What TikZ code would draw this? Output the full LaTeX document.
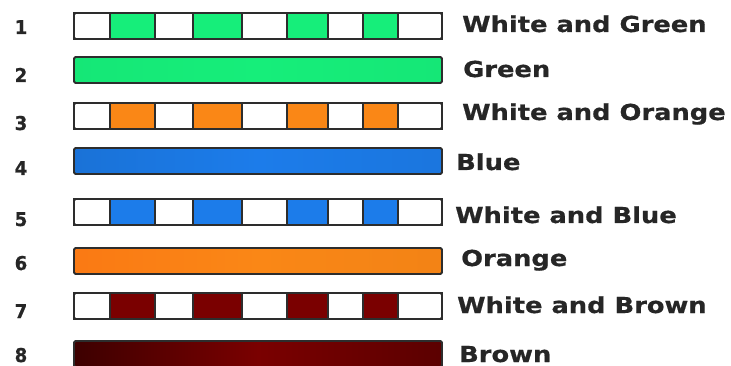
\documentclass[tikz,border=0pt]{standalone}
\usepackage{fontspec}
\setmainfont{DejaVu Sans}
\newfontfamily\labfont[FakeStretch=1.17,FakeBold=0.6]{DejaVu Sans Bold}
\newfontfamily\numfont[FakeStretch=0.95,FakeBold=0.8]{DejaVu Sans Bold}
\definecolor{cgreen}{RGB}{22,238,122}
\definecolor{corange}{RGB}{250,135,22}
\definecolor{cblue}{RGB}{28,124,234}
\definecolor{cbrown}{RGB}{122,0,0}
\definecolor{edge}{RGB}{45,45,45}
\tikzset{
  seg/.style={draw=edge,line width=1.6pt},
  barframe/.style={draw=edge,line width=1.8pt,rounded corners=1.5pt},
  numtext/.style={font=\numfont\fontsize{19}{19}\selectfont,text=black!85,inner sep=0pt,anchor=base},
  labtext/.style={font=\labfont\fontsize{22}{22}\selectfont,text=black!85,inner sep=0pt,anchor=base west},
}
\begin{document}
\begin{tikzpicture}[x=1pt,y=-1pt]
\useasboundingbox (0,0) rectangle (731,366);
\fill[white] (0,0) rectangle (731,366);
% striped bars
\foreach \yc/\col/\nm in {26/cgreen/b1,116/corange/b3,212/cblue/b5,306/cbrown/b7}{
  \foreach \a/\b/\f in {74/110/white,110/155/\col,155/193/white,193/242/\col,242/287/white,287/328/\col,328/363/white,363/398/\col,398/442/white}{
    \filldraw[seg,fill=\f] (\a,\yc-13) rectangle (\b,\yc+13);
  }
  \node[barframe,minimum width=368pt,minimum height=26pt,inner sep=0pt] (\nm) at (258,\yc) {};
}
% solid bars
\node[barframe,minimum width=368pt,minimum height=26pt,inner sep=0pt,left color=cgreen!97!black,right color=cgreen!97!black,middle color=cgreen] (b2) at (258,70) {};
\node[barframe,minimum width=368pt,minimum height=26pt,inner sep=0pt,left color=cblue!92!black,right color=cblue!95!black,middle color=cblue] (b4) at (258,161) {};
\node[barframe,minimum width=368pt,minimum height=26pt,inner sep=0pt,left color=corange!90!red,right color=corange!97!black,middle color=corange] (b6) at (258,261) {};
\node[barframe,minimum width=368pt,minimum height=26pt,inner sep=0pt,left color=cbrown!50!black,right color=cbrown!75!black,middle color=cbrown] (b8) at (258,354) {};
% numbers
\node[numtext] (n1) at (21,34) {1};
\node[numtext] (n2) at (21,82) {2};
\node[numtext] (n3) at (21,130) {3};
\node[numtext] (n4) at (21,175) {4};
\node[numtext] (n5) at (21,226) {5};
\node[numtext] (n6) at (21,270) {6};
\node[numtext] (n7) at (21,318) {7};
\node[numtext] (n8) at (21,362) {8};
% labels
\node[labtext] (l1) at (462,32) {White and Green};
\node[labtext] (l2) at (463,77) {Green};
\node[labtext] (l3) at (462,120) {White and Orange};
\node[labtext] (l4) at (456,170) {Blue};
\node[labtext] (l5) at (455,223) {White and Blue};
\node[labtext] (l6) at (461,266) {Orange};
\node[labtext] (l7) at (457,313) {White and Brown};
\node[labtext] (l8) at (459,362) {Brown};
\end{tikzpicture}
\end{document}
